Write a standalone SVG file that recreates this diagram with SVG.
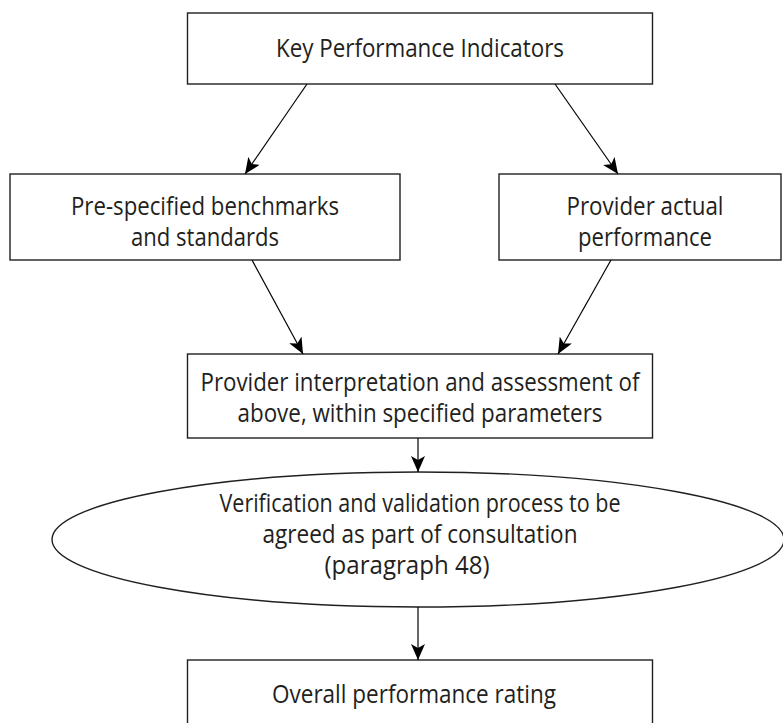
<svg xmlns="http://www.w3.org/2000/svg" width="783" height="723" viewBox="0 0 783 723">
<defs>
<marker id="ah" viewBox="0 0 16 14" refX="16" refY="7" markerWidth="16" markerHeight="14" markerUnits="userSpaceOnUse" orient="auto">
<path d="M0,0 L16,7 L0,14 L4,7 Z" fill="#000"/>
</marker>
<style>
.box{fill:#fff;stroke:#231f20;stroke-width:1.4}
.t{font-family:"Open Sans","Noto Sans","Liberation Sans",sans-serif;font-size:25px;fill:#231f20;text-anchor:middle}
.c{font-family:"Open Sans","Noto Sans","Liberation Sans",sans-serif;font-size:25px;fill:#231f20;text-anchor:middle}
.ln{stroke:#000;stroke-width:1.2;fill:none;marker-end:url(#ah)}
</style>
</defs>
<rect width="783" height="723" fill="#fff"/>
<g id="kpi">
<rect class="box" x="187.5" y="13" width="465" height="71"/>
<text class="t" x="420" y="57" textLength="288" lengthAdjust="spacingAndGlyphs">Key Performance Indicators</text>
</g>
<g id="benchmarks">
<rect class="box" x="10" y="174" width="390" height="86"/>
<text class="c" x="205" y="215" textLength="268" lengthAdjust="spacingAndGlyphs">Pre-specified benchmarks</text>
<text class="c" x="205" y="246" textLength="148" lengthAdjust="spacingAndGlyphs">and standards</text>
</g>
<g id="actual">
<rect class="box" x="499" y="174" width="282" height="86"/>
<text class="c" x="645" y="215" textLength="157" lengthAdjust="spacingAndGlyphs">Provider actual</text>
<text class="c" x="645" y="246" textLength="134" lengthAdjust="spacingAndGlyphs">performance</text>
</g>
<g id="interpretation">
<rect class="box" x="187.5" y="354" width="465" height="84"/>
<text class="c" x="420" y="391" textLength="439" lengthAdjust="spacingAndGlyphs">Provider interpretation and assessment of</text>
<text class="c" x="420" y="422" textLength="365" lengthAdjust="spacingAndGlyphs">above, within specified parameters</text>
</g>
<g id="verification">
<ellipse class="box" cx="418" cy="539.5" rx="366" ry="67.5"/>
<text class="t" x="420" y="512" textLength="401" lengthAdjust="spacingAndGlyphs">Verification and validation process to be</text>
<text class="t" x="420" y="543" textLength="315" lengthAdjust="spacingAndGlyphs">agreed as part of consultation</text>
<text class="t" x="407" y="574" textLength="165" lengthAdjust="spacingAndGlyphs">(paragraph 48)</text>
</g>
<g id="rating">
<rect class="box" x="187.5" y="660" width="465" height="80"/>
<text class="t" x="414" y="703" textLength="284" lengthAdjust="spacingAndGlyphs">Overall performance rating</text>
</g>
<g id="connectors">
<line class="ln" x1="307" y1="84" x2="245" y2="174"/>
<line class="ln" x1="555" y1="84" x2="618" y2="174"/>
<line class="ln" x1="252" y1="260" x2="303" y2="354"/>
<line class="ln" x1="611" y1="260" x2="558" y2="354"/>
<line class="ln" x1="418" y1="438" x2="418" y2="472"/>
<line class="ln" x1="418" y1="607" x2="418" y2="660"/>
</g>
</svg>
